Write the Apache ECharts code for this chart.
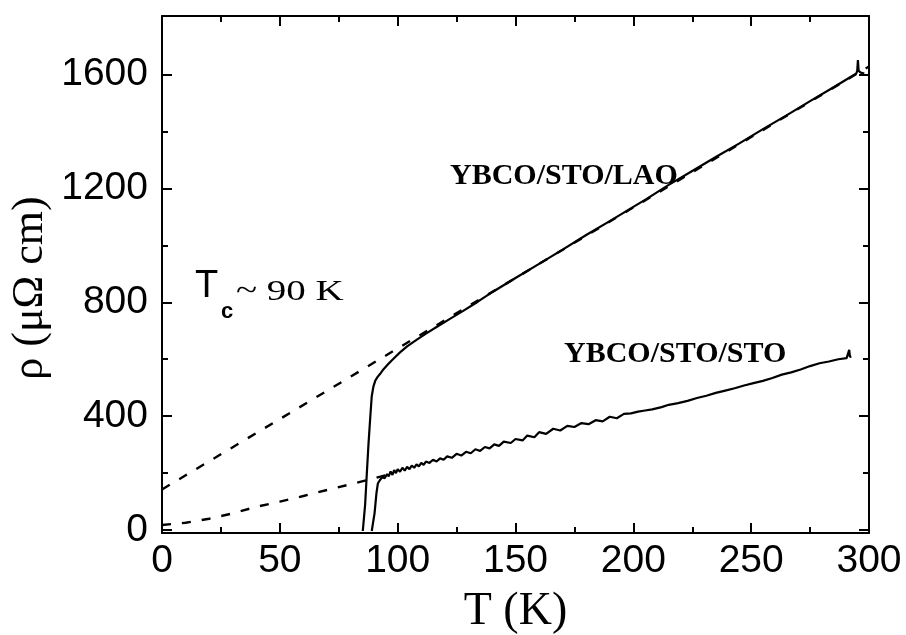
<!DOCTYPE html>
<html>
<head>
<meta charset="utf-8">
<script src="https://cdn.jsdelivr.net/npm/echarts@6/dist/echarts.min.js"></script>
<style>
html,body{margin:0;padding:0;background:#fff;}
#chart{width:906px;height:635px;}
</style>
</head>
<body>
<div id="chart"></div>
<script>
// ---- data ----
var xTicks = [0, 50, 100, 150, 200, 250, 300];
var yTicksMajor = [0, 400, 800, 1200, 1600];
var yTicksMinor = [200, 600, 1000, 1400];

// YBCO/STO/LAO measured resistivity [T (K), rho (µΩ cm)]
var laoSolid = [
  [85.2,-3],[85.5,0],[86.2,90],[86.8,182],[87.6,300],[88.4,400],[89.0,470],[89.7,504],
  [90.5,525],[91.5,538],[92.5,548],[94,565],[96,583],[98,600],[101,624],[104,645],
  [108,668],[112,690],[116.5,713],[122,741],[127.8,770],[134,802],[140.6,838],
  [150,885],[160,935],[170,985],[180,1036],[190,1085],[200,1135],[205.5,1162],
  [215,1212],[225,1261],[235,1310],[245,1358],[255,1408],[265,1456],[275,1506],
  [285,1555],[292,1590],[294.5,1602],[295,1612],[295.3,1650],[295.6,1612],
  [296.5,1606],[298,1603]
];
// YBCO/STO/LAO linear extrapolation (dashed)
var laoFit = [[0,143],[50,390],[100,638],[150,885],[200,1133],[250,1380],[300,1628]];

// YBCO/STO/STO measured resistivity
var stoSolid = [
  [89.0,-3],[89.4,0],[90.2,60],[91.0,130],[91.6,164],[92.5,176],[93.5,186],[94.5,182],
  [95.5,197],[96.2,189],[97,206],[97.8,194],[98.5,211],[99.3,200],[100,214],[101,205],
  [102,219],[103,209],[104,222],[105,214],[106,227],[107,219],[108,231],[109,224],
  [110,236],[111,229],[112,241],[113.5,236],[115,247],[116.5,241],[118,252],[119.5,247],
  [121,259],[123,254],[125,268],[127,262],[129,275],[131,270],[133,284],[135,278],
  [137,292],[139,287],[141,301],[143,296],[145,311],[148,306],[150,320],[153,315],
  [155,332],[158,326],[160,344],[163,338],[166,356],[169,350],[172,366],[175,362],
  [178,376],[181,372],[184,386],[187,382],[190,398],[193,393],[196,408],[199,410],
  [202,416],[205,420],[208,424],[212,432],[215,440],[219,446],[223,454],[227,464],
  [231,472],[235,482],[239,490],[243,498],[247,508],[251,516],[255,524],[259,534],
  [263,546],[267,554],[271,564],[275,576],[279,586],[283,592],[287,600],[290.5,604],
  [291.3,606],[291.6,633],[291.9,608],[292.5,610]
];
// YBCO/STO/STO low-temperature fit (dashed)
var stoFit = [[0,18],[10,26],[20,40],[30,59],[40,82],[50,100],[60,120],[70,141],[80,161],[90,182],[95,193]];

var Y_MIN = -10, Y_MAX = 1805;

var chart = echarts.init(document.getElementById('chart'), null, {renderer:'canvas'});
var black = '#000';
function plain(v){ return String(v); }
function yAx(pos, showLine, labels, ticks, len) {
  return {
    type:'value', position:pos, min:Y_MIN, max:Y_MAX,
    axisLine:{show:showLine, onZero:false, lineStyle:{color:black, width:2}},
    axisTick:{show:true, inside:true, length:len, customValues:ticks, lineStyle:{color:black, width:2}},
    axisLabel:{show:labels, customValues:yTicksMajor, margin:14, color:black, formatter:plain,
               fontFamily:'Liberation Sans', fontSize:39},
    splitLine:{show:false}
  };
}
var option = {
  animation:false,
  backgroundColor:'#fff',
  grid:{left:162, right:37, top:16, bottom:102, containLabel:false, outerBoundsMode:'none'},
  xAxis:[
    {type:'value', position:'bottom', min:0, max:300, interval:50,
     name:'T (K)', nameLocation:'middle', nameGap:56,
     nameTextStyle:{fontFamily:'Liberation Serif', fontSize:46, color:black, verticalAlign:'top'},
     axisLine:{onZero:false, lineStyle:{color:black, width:2}},
     axisTick:{inside:true, length:10, lineStyle:{color:black, width:2}},
     minorTick:{show:true, splitNumber:2, length:6, lineStyle:{color:black, width:2}},
     axisLabel:{margin:9, color:black, formatter:plain, fontFamily:'Liberation Sans', fontSize:39},
     splitLine:{show:false}, minorSplitLine:{show:false}},
    {type:'value', position:'top', min:0, max:300, interval:50,
     axisLine:{onZero:false, lineStyle:{color:black, width:2}},
     axisTick:{inside:true, length:10, lineStyle:{color:black, width:2}},
     minorTick:{show:true, splitNumber:2, length:6, lineStyle:{color:black, width:2}},
     axisLabel:{show:false}, splitLine:{show:false}, minorSplitLine:{show:false}}
  ],
  yAxis:[
    yAx('left', true, true, yTicksMajor, 10),
    yAx('left', false, false, yTicksMinor, 6),
    yAx('right', true, false, yTicksMajor, 10),
    yAx('right', false, false, yTicksMinor, 6)
  ],
  series:[
    {type:'line', data:laoFit, showSymbol:false, symbol:'none', clip:true,
     lineStyle:{color:black, width:2.4, type:[9,11]}},
    {type:'line', data:stoFit, showSymbol:false, symbol:'none', clip:true,
     lineStyle:{color:black, width:2.4, type:[9,11]}},
    {type:'line', data:laoSolid, showSymbol:false, symbol:'none', clip:true,
     lineStyle:{color:black, width:2.2}},
    {type:'line', data:stoSolid, showSymbol:false, symbol:'none', clip:true,
     lineStyle:{color:black, width:2.2}}
  ],
  graphic:[
    {type:'text', x:30, y:288, rotation:Math.PI/2,
     style:{text:'\u03c1 (\u03bc\u03a9 cm)', font:'44px "Liberation Serif"', fill:black,
            align:'center', verticalAlign:'middle'}},
    {type:'text', left:450, top:161, style:{text:'YBCO/STO/LAO', font:'bold 30px "Liberation Serif"', fill:black}},
    {type:'text', left:564, top:339, style:{text:'YBCO/STO/STO', font:'bold 30px "Liberation Serif"', fill:black}},
    {type:'text', left:195, top:268, style:{text:'T', font:'38px "Liberation Sans"', fill:black}},
    {type:'text', left:221, top:301, style:{text:'c', font:'bold 22px "Liberation Sans"', fill:black}},
    {type:'text', x:236, y:307, scaleX:1.3,
     style:{text:'~ 90 K', font:'30px "Liberation Serif"', fill:black, verticalAlign:'bottom'}}
  ]
};
chart.setOption(option);
</script>
</body>
</html>
